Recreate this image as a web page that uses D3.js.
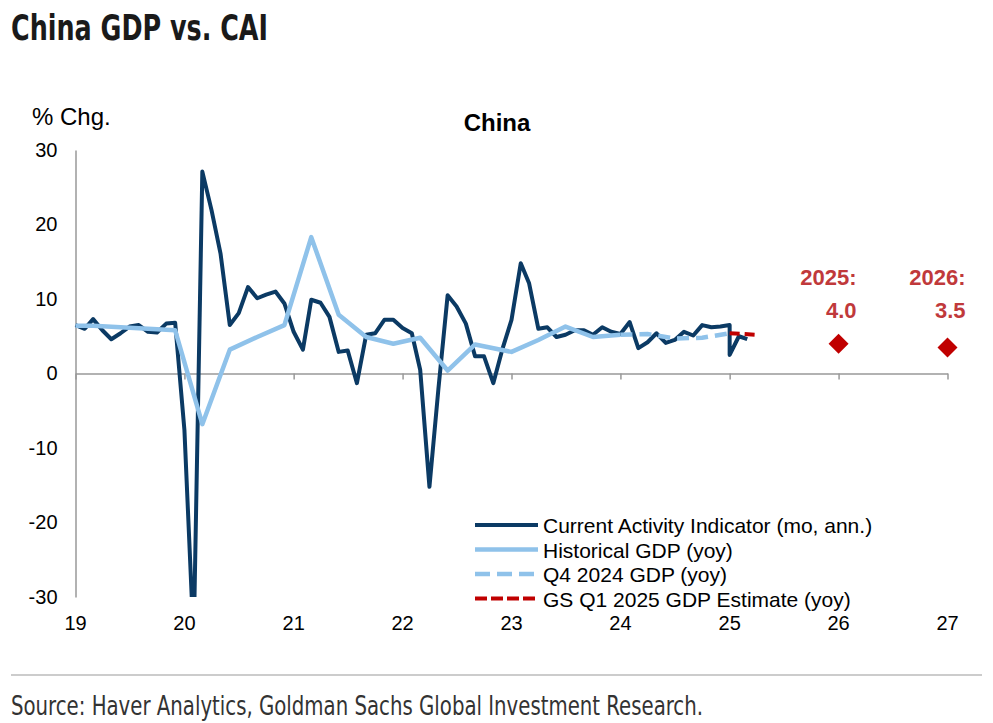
<!DOCTYPE html>
<html>
<head>
<meta charset="utf-8">
<script src="https://cdn.jsdelivr.net/npm/d3@7"></script>
<style>
  body { margin: 0; background: #fff; }
  svg { display: block; font-family: "Liberation Sans", Arial, sans-serif; }
  .narrow { font-family: "Liberation Sans Narrow", "DejaVu Sans Condensed", sans-serif; }
</style>
</head>
<body>
<svg width="993" height="723"></svg>
<script>
// **** Data ****

var yearTicks = ['19', '20', '21', '22', '23', '24', '25', '26', '27'];
var valueTicks = [30, 20, 10, 0, -10, -20, -30];

// Current Activity Indicator, monthly (Jan 2025 has two readings at the same spot)
var caiMonths = [
  '2019-01','2019-02','2019-03','2019-04','2019-05','2019-06','2019-07','2019-08','2019-09','2019-10','2019-11','2019-12',
  '2020-01','2020-02','2020-03','2020-04','2020-05','2020-06','2020-07','2020-08','2020-09','2020-10','2020-11','2020-12',
  '2021-01','2021-02','2021-03','2021-04','2021-05','2021-06','2021-07','2021-08','2021-09','2021-10','2021-11','2021-12',
  '2022-01','2022-02','2022-03','2022-04','2022-05','2022-06','2022-07','2022-08','2022-09','2022-10','2022-11','2022-12',
  '2023-01','2023-02','2023-03','2023-04','2023-05','2023-06','2023-07','2023-08','2023-09','2023-10','2023-11','2023-12',
  '2024-01','2024-02','2024-03','2024-04','2024-05','2024-06','2024-07','2024-08','2024-09','2024-10','2024-11','2024-12',
  '2025-01','2025-01','2025-02','2025-03'
];
var caiValues = [
  6.5, 6.0, 7.3, 5.8, 4.6, 5.4, 6.3, 6.5, 5.6, 5.5, 6.7, 6.8,
  -7.6, -36, 27.1, 21.9, 16.1, 6.5, 8.1, 11.6, 10.1, 10.6, 11.0, 9.4,
  5.6, 3.2, 9.9, 9.5, 7.6, 2.9, 3.1, -1.3, 5.2, 5.4, 7.2, 7.2,
  6.1, 5.4, 0.5, -15.2, -2.1, 10.5, 9.0, 6.7, 2.3, 2.3, -1.3, 3.2,
  7.2, 14.8, 12.1, 6.0, 6.2, 4.9, 5.2, 5.8, 5.8, 5.2, 6.2, 5.6,
  5.3, 6.9, 3.4, 4.2, 5.4, 4.1, 4.5, 5.6, 5.1, 6.5, 6.2, 6.3,
  6.5, 2.5, 5.0, 4.6
];

// Historical GDP (yoy), quarterly
var gdpMonths = ['2019-01','2019-03','2019-06','2019-09','2019-12','2020-03','2020-06','2020-09','2020-12',
  '2021-03','2021-06','2021-09','2021-12','2022-03','2022-06','2022-09','2023-01','2023-04','2023-07','2023-10','2024-01'];
var gdpValues = [6.4, 6.4, 6.2, 6.0, 5.8, -6.8, 3.2, 4.9, 6.5,
  18.3, 7.9, 4.9, 4.0, 4.8, 0.4, 3.9, 2.9, 4.5, 6.3, 4.9, 5.2];

// Q4 2024 GDP (yoy)
var q4Months = ['2024-01', '2024-04', '2024-07', '2024-10', '2025-01'];
var q4Values = [5.2, 5.3, 4.7, 4.8, 5.4];

// GS Q1 2025 GDP estimate (yoy)
var gsMonths = ['2025-01', '2025-04'];
var gsValues = [5.4, 5.2];

// GS annual forecasts
var annualMonths = ['2026-01', '2027-01'];
var annualValues = [4.0, 3.5];
var annualLabels = ['2025:', '2026:'];

var legendLabels = ['Current Activity Indicator (mo, ann.)', 'Historical GDP (yoy)',
  'Q4 2024 GDP (yoy)', 'GS Q1 2025 GDP Estimate (yoy)'];

// **** Scales ****

var parseMonth = d3.timeParse('%Y-%m');

var xScale = d3.scaleTime()
    .domain([new Date(2019, 0, 1), new Date(2027, 0, 1)]).range([75.5, 947.5]);

var yScale = d3.scaleLinear()
    .domain([-30, 30]).range([597, 150]);

var navy = '#0b3a64', sky = '#8fc2ea', red = '#c00000', labelRed = '#c0393b';

function zip(months, values) {
    return months.map(function(m, i) { return { date: parseMonth(m), value: values[i] }; });
}

var line = d3.line()
    .x(d => xScale(d.date))
    .y(d => yScale(d.value));

var svg = d3.select('svg');

// **** Titles ****

svg.append('text').attr('class', 'narrow')
    .attr('x', 11).attr('y', 40)
    .attr('font-size', 36).attr('font-weight', 'bold').attr('fill', '#1a1a1a')
    .attr('textLength', 257).attr('lengthAdjust', 'spacingAndGlyphs')
    .text('China GDP vs. CAI');

svg.append('text')
    .attr('x', 32).attr('y', 125)
    .attr('font-size', 24).attr('fill', '#000')
    .text('% Chg.');

svg.append('text')
    .attr('x', 497).attr('y', 131)
    .attr('text-anchor', 'middle')
    .attr('font-size', 24).attr('font-weight', 'bold')
    .text('China');

// **** Axes ****

var yAxis = svg.append('g').attr('class', 'y axis')
    .attr('transform', 'translate(75.5,0)')
    .call(d3.axisLeft(yScale).tickValues(valueTicks).tickSize(0).tickPadding(18)
        .tickFormat(d => String(d)));
yAxis.select('.domain').attr('stroke', '#999').attr('stroke-width', 1.5);
yAxis.selectAll('text').attr('font-size', 20).attr('fill', '#000')
    .style('font-family', '"Liberation Sans", Arial, sans-serif');

var yearDates = yearTicks.map(t => new Date(2000 + (+t), 0, 1));

var xAxis = svg.append('g').attr('class', 'x axis')
    .attr('transform', 'translate(0,' + yScale(0) + ')')
    .call(d3.axisBottom(xScale).tickValues(yearDates).tickSizeInner(6).tickSizeOuter(0)
        .tickFormat((d, i) => yearTicks[i]));
xAxis.select('.domain').attr('stroke', '#999').attr('stroke-width', 1.5);
xAxis.selectAll('line').attr('stroke', '#999').attr('stroke-width', 1.5);
xAxis.selectAll('text').remove();

// year labels sit below the plot, not on the zero line
svg.append('g').selectAll('text')
    .data(yearDates)
    .enter()
    .append('text')
    .attr('x', d => xScale(d))
    .attr('y', 630)
    .attr('text-anchor', 'middle')
    .attr('font-size', 20)
    .text((d, i) => yearTicks[i]);

// **** Lines ****

svg.append('clipPath').attr('id', 'plot-clip')
    .append('rect').attr('x', 70).attr('y', 140).attr('width', 890).attr('height', yScale(-30) - 140);

var plot = svg.append('g').attr('clip-path', 'url(#plot-clip)');

plot.append('path')
    .datum(zip(caiMonths, caiValues))
    .attr('d', line)
    .attr('fill', 'none').attr('stroke', navy)
    .attr('stroke-width', 4).attr('stroke-linejoin', 'round');

plot.append('path')
    .datum(zip(gdpMonths, gdpValues))
    .attr('d', line)
    .attr('fill', 'none').attr('stroke', sky)
    .attr('stroke-width', 4.5).attr('stroke-linejoin', 'round');

plot.append('path')
    .datum(zip(q4Months, q4Values))
    .attr('d', line)
    .attr('fill', 'none').attr('stroke', sky)
    .attr('stroke-width', 4.5).attr('stroke-dasharray', '12,7');

plot.append('path')
    .datum(zip(gsMonths, gsValues))
    .attr('d', line)
    .attr('fill', 'none').attr('stroke', red)
    .attr('stroke-width', 4).attr('stroke-dasharray', '10,5');

// **** Annual forecast diamonds ****

var annual = zip(annualMonths, annualValues);

svg.append('g').selectAll('path')
    .data(annual)
    .enter()
    .append('path')
    .attr('d', d3.symbol().type(d3.symbolSquare).size(200))
    .attr('transform', d => 'translate(' + xScale(d.date) + ',' + yScale(d.value) + ') rotate(45)')
    .attr('fill', red);

var annualText = svg.append('g')
    .attr('font-size', 22).attr('font-weight', 'bold').attr('fill', labelRed)
    .attr('text-anchor', 'end');

annualText.selectAll('text.year')
    .data(annual)
    .enter()
    .append('text').attr('class', 'year')
    .attr('x', d => xScale(d.date) + 18)
    .attr('y', 285)
    .text((d, i) => annualLabels[i]);

annualText.selectAll('text.val')
    .data(annual)
    .enter()
    .append('text').attr('class', 'val')
    .attr('x', d => xScale(d.date) + 18)
    .attr('y', 318)
    .text(d => d3.format('.1f')(d.value));

// **** Legend ****

var legendStyles = [
    { color: navy, width: 4, dash: null },
    { color: sky, width: 4.5, dash: null },
    { color: sky, width: 4.5, dash: '15,7' },
    { color: red, width: 4, dash: '12,4' }
];

var legend = svg.append('g').attr('transform', 'translate(475,525)');

legendLabels.forEach(function(label, i) {
    var row = legend.append('g').attr('transform', 'translate(0,' + (i * 24.5) + ')');
    row.append('line')
        .attr('x1', 0).attr('x2', 63).attr('y1', 0).attr('y2', 0)
        .attr('stroke', legendStyles[i].color)
        .attr('stroke-width', legendStyles[i].width)
        .attr('stroke-dasharray', legendStyles[i].dash);
    row.append('text')
        .attr('x', 68).attr('y', 8)
        .attr('font-size', 21)
        .text(label);
});

// **** Footer ****

svg.append('line')
    .attr('x1', 11).attr('x2', 982).attr('y1', 675).attr('y2', 675)
    .attr('stroke', '#999').attr('stroke-width', 1);

svg.append('text').attr('class', 'narrow')
    .attr('x', 11).attr('y', 715)
    .attr('font-size', 27).attr('fill', '#333')
    .attr('textLength', 692).attr('lengthAdjust', 'spacingAndGlyphs')
    .text('Source: Haver Analytics, Goldman Sachs Global Investment Research.');
</script>
</body>
</html>
